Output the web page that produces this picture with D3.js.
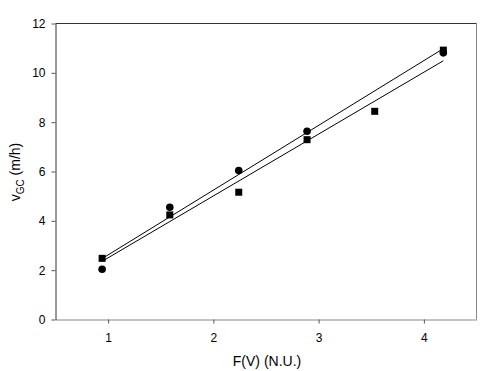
<!DOCTYPE html>
<html><head><meta charset="utf-8">
<script src="https://cdn.jsdelivr.net/npm/d3@7"></script>
<style>body{margin:0;background:#fff}svg{display:block;font-family:"Liberation Sans",Arial,sans-serif}</style>
</head><body><svg id="c" width="500" height="371"></svg>
<script>
const circleX = [0.943, 1.586, 2.241, 2.89, 4.185];
const circleY = [2.04, 4.55, 6.04, 7.63, 10.81];
const squareX = [0.943, 1.586, 2.241, 2.89, 3.533, 4.185];
const squareY = [2.48, 4.24, 5.16, 7.29, 8.44, 10.92];
const xTicks = [1, 2, 3, 4];
const yTicks = [0, 2, 4, 6, 8, 10, 12];

const svg = d3.select("#c");
const L = 55.5, R = 476.5, T = 23.5, B = 319.5;
const x = d3.scaleLinear().domain([0.5, 4.5]).range([L, R]);
const y = d3.scaleLinear().domain([0, 12]).range([B, T]);

function fit(xs, ys) {
  const n = xs.length, mx = d3.mean(xs), my = d3.mean(ys);
  let sxy = 0, sxx = 0;
  for (let i = 0; i < n; i++) { sxy += (xs[i]-mx)*(ys[i]-my); sxx += (xs[i]-mx)**2; }
  const b = sxy / sxx, a = my - b*mx;
  const x0 = d3.min(xs), x1 = d3.max(xs);
  return [[x0, a + b*x0], [x1, a + b*x1]];
}
const line = d3.line().x(d => x(d[0])).y(d => y(d[1]));
[fit(circleX, circleY), fit(squareX, squareY)].forEach(seg => {
  svg.append("path").attr("d", line(seg)).attr("fill", "none").attr("stroke", "#000").attr("stroke-width", 1);
});

// frame
svg.append("line").attr("x1", L).attr("x2", R).attr("y1", T).attr("y2", T).attr("stroke", "#333");
svg.append("line").attr("x1", R).attr("x2", R).attr("y1", T).attr("y2", B).attr("stroke", "#888");

const xAxis = d3.axisBottom(x).tickValues(xTicks).tickSize(4).tickSizeOuter(0).tickPadding(10).tickFormat(d3.format("d"));
const gx = svg.append("g").attr("transform", `translate(0,${B})`).call(xAxis);
gx.select(".domain").attr("stroke", "#888");
gx.selectAll(".tick line").attr("stroke", "#555");
gx.selectAll("text").attr("font-size", 12).attr("fill", "#000").attr("font-family", "Liberation Sans, Arial, sans-serif");

const yAxis = d3.axisLeft(y).tickValues(yTicks).tickSize(4).tickSizeOuter(0).tickPadding(6);
const gy = svg.append("g").attr("transform", `translate(${L},0)`).call(yAxis);
gy.select(".domain").attr("stroke", "#333");
gy.selectAll(".tick line").attr("stroke", "#555");
gy.selectAll("text").attr("font-size", 12).attr("fill", "#000").attr("font-family", "Liberation Sans, Arial, sans-serif");

svg.selectAll("circle.pt").data(circleX.map((v, i) => [v, circleY[i]])).enter()
  .append("circle").attr("class", "pt").attr("cx", d => x(d[0])).attr("cy", d => y(d[1])).attr("r", 3.8).attr("fill", "#000");
const s = 7;
svg.selectAll("rect.pt").data(squareX.map((v, i) => [v, squareY[i]])).enter()
  .append("rect").attr("class", "pt").attr("x", d => x(d[0]) - s/2).attr("y", d => y(d[1]) - s/2)
  .attr("width", s).attr("height", s).attr("fill", "#000");

svg.append("text").attr("x", 267).attr("y", 366).attr("text-anchor", "middle").attr("font-size", 14).text("F(V) (N.U.)");
const yt = svg.append("text").attr("transform", `translate(20,172) rotate(-90)`).attr("text-anchor", "middle").attr("font-size", 14);
yt.append("tspan").text("v");
yt.append("tspan").attr("font-size", 10).attr("dy", 4).text("GC");
yt.append("tspan").attr("dy", -4).text(" (m/h)");
</script></body></html>
